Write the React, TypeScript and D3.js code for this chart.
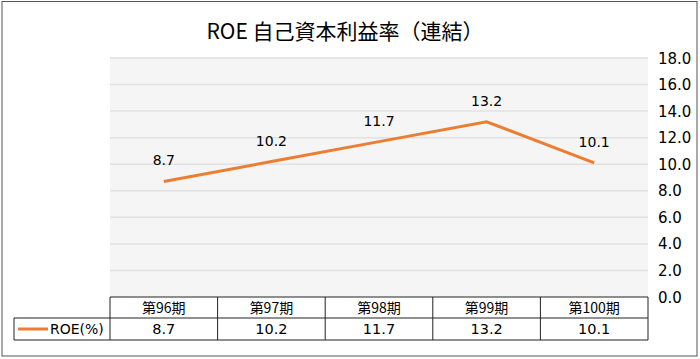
import React from "react";
import * as d3 from "d3";

const categories = ["第96期", "第97期", "第98期", "第99期", "第100期"];
const roeValues = [8.7, 10.2, 11.7, 13.2, 10.1];
const yTicks = [0, 2, 4, 6, 8, 10, 12, 14, 16, 18];
const seriesName = "ROE(%)";
const title = "ROE 自己資本利益率（連結）";

const W = 700;
const H = 359;
const CJK = "'Noto Sans CJK JP', 'Noto Sans', sans-serif";
const NUM = "'DejaVu Sans', 'Noto Sans CJK JP', sans-serif";
const ORANGE = "#ED7D31";

export default function App() {
  const left = 110;
  const right = 648;
  const top = 58;
  const bottom = 297;
  const x = d3.scaleBand<string>().domain(categories).range([left, right]);
  const y = d3.scaleLinear().domain([0, 18]).range([bottom, top]);
  const cx = (c: string) => (x(c) as number) + x.bandwidth() / 2;
  const line = d3
    .line<number>()
    .x((_, i) => cx(categories[i]))
    .y((d) => y(d));
  const row1 = 297;
  const row2 = 318;
  const row3 = 340;
  return (
    <svg width={W} height={H} style={{ position: "absolute", left: 0, top: 0, fontFamily: CJK }}>
      <rect x={0} y={0} width={W} height={H} fill="#fff" />
      <rect x={2} y={1.5} width={695} height={354.5} fill="none" stroke="#555" strokeWidth={1} />
      <text x={345} y={39} textAnchor="middle" fontSize={21} fill="#000">{title}</text>
      <rect x={left} y={top - 1} width={right - left} height={bottom - top + 1} fill="#f5f5f5" />
      {yTicks.map((t) => (
        <g key={t}>
          {t > 0 && (
            <line x1={left} x2={right} y1={y(t)} y2={y(t)} stroke="#e2e2e2" strokeWidth={1.5} />
          )}
          <text x={658} y={y(t) + 5.5} fontSize={15} fontFamily={NUM} fill="#000">{t.toFixed(1)}</text>
        </g>
      ))}
      <path d={line(roeValues) || ""} fill="none" stroke={ORANGE} strokeWidth={3} />
      {roeValues.map((v, i) => (
        <text
          key={i}
          x={cx(categories[i])}
          y={y(v) - 16}
          textAnchor="middle"
          fontSize={14}
          fontFamily={NUM}
          fill="#000"
        >
          {v.toFixed(1)}
        </text>
      ))}
      {/* table */}
      <g stroke="#222" strokeWidth={1} fill="none">
        <line x1={left} x2={right} y1={row1} y2={row1} />
        <line x1={14} x2={right} y1={row2} y2={row2} />
        <line x1={14} x2={right} y1={row3} y2={row3} />
        <line x1={14} x2={14} y1={row2} y2={row3} />
        {categories.map((c) => (
          <line key={c} x1={x(c) as number} x2={x(c) as number} y1={row1} y2={row3} />
        ))}
        <line x1={right} x2={right} y1={row1} y2={row3} />
      </g>
      {categories.map((c, i) => (
        <g key={c}>
          <text x={cx(c)} y={row1 + 15.5} textAnchor="middle" fontSize={14} fill="#000">{c}</text>
          <text x={cx(c)} y={row2 + 16} textAnchor="middle" fontSize={14.5} fontFamily={NUM} fill="#000">{roeValues[i].toFixed(1)}</text>
        </g>
      ))}
      <line x1={18} x2={48} y1={row2 + 11} y2={row2 + 11} stroke={ORANGE} strokeWidth={3} />
      <text x={50} y={row2 + 16} fontSize={14} fontFamily={NUM} fill="#000">{seriesName}</text>
    </svg>
  );
}
